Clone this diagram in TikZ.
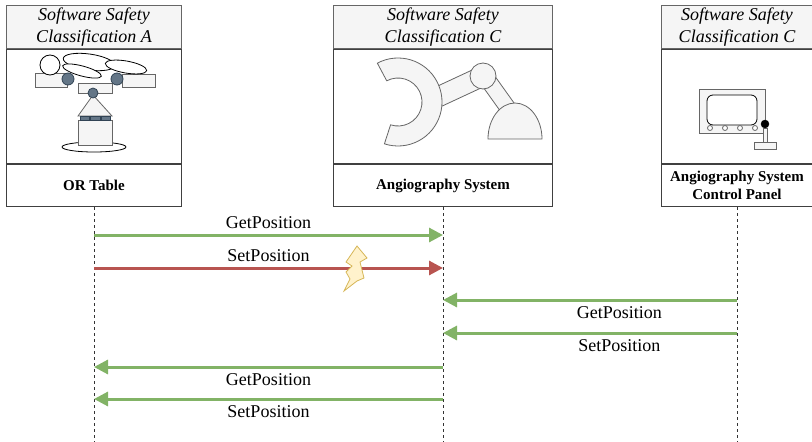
\documentclass[tikz,border=0pt]{standalone}
\usepackage{fontspec}
\setmainfont{Liberation Serif}
\usetikzlibrary{arrows.meta}
\definecolor{hdrfill}{HTML}{F5F5F5}
\definecolor{hdrline}{HTML}{666666}
\definecolor{okgreen}{HTML}{82B366}
\definecolor{badred}{HTML}{B85450}
\definecolor{jointfill}{HTML}{647687}
\definecolor{jointline}{HTML}{314354}
\definecolor{boltfill}{HTML}{FFF2CC}
\definecolor{boltline}{HTML}{D6B656}
\tikzset{
  headbox/.style={draw=hdrline, fill=hdrfill, line width=1pt, minimum height=43pt, inner sep=0pt,
    align=center, font=\fontsize{18}{22}\selectfont\itshape, anchor=north west},
  picbox/.style={draw=black!75, line width=1pt, minimum height=114pt, inner sep=0pt, anchor=north},
  namebox/.style={draw=black!75, line width=1pt, minimum height=42pt, inner sep=0pt,
    align=center, font=\fontsize{15}{18}\selectfont\bfseries, anchor=north},
  lifeline/.style={black!80, line width=0.8pt, dash pattern=on 3pt off 3pt},
  msg/.style={line width=3pt, -{Triangle[length=14pt,width=14pt]}},
  okmsg/.style={msg, okgreen},
  badmsg/.style={msg, badred},
  msglbl/.style={text=black, inner sep=5pt, font=\fontsize{18}{20}\selectfont},
  icon/.style={draw=hdrline, fill=hdrfill, line width=0.8pt},
  joint/.style={draw=jointline, fill=jointfill, line width=0.8pt}
}
\begin{document}
\begin{tikzpicture}[x=1pt,y=-1pt]
\useasboundingbox (0,0) rectangle (812,442);
%boxes
\node[headbox, minimum width=175pt] (orHead) at (6,5) {Software Safety\\Classification A};
\node[picbox, minimum width=175pt] (orPic) at (orHead.south) {};
\node[namebox, minimum width=175pt] (orName) at (orPic.south) {OR Table};
%
\node[headbox, minimum width=219pt] (angioHead) at (333,5) {Software Safety\\Classification C};
\node[picbox, minimum width=219pt] (angioPic) at (angioHead.south) {};
\node[namebox, minimum width=219pt] (angioName) at (angioPic.south) {Angiography System};
%
\node[headbox, minimum width=151pt] (panelHead) at (661,5) {Software Safety\\Classification C};
\node[picbox, minimum width=151pt] (panelPic) at (panelHead.south) {};
\node[namebox, minimum width=151pt] (panelName) at (panelPic.south) {Angiography System\\Control Panel};
%
%OR table icon
\draw[icon] (35,73) rectangle (67,87);
\draw[icon] (122,74) rectangle (155,87);
\draw[icon] (78,83) rectangle (112,93);
\draw[fill=white, line width=0.8pt] (50,65) circle (10pt);
\draw[fill=white, line width=0.8pt, rotate around={-8:(89,62)}] (89,62) ellipse (26pt and 8pt);
\draw[fill=white, line width=0.8pt, rotate around={-15:(82,71)}] (82,71) ellipse (20pt and 5pt);
\draw[fill=white, line width=0.8pt, rotate around={-10:(126,67)}] (126,67) ellipse (21pt and 6pt);
\draw[fill=white, line width=0.8pt] (94,147) ellipse (32pt and 5pt);
\draw[icon] (78,120) rectangle (112,145);
\draw[icon] (93,95) -- (112,116) -- (78,116) -- cycle;
\draw[joint] (80,116) rectangle (89,120);
\draw[joint] (90,116) rectangle (100,120);
\draw[joint] (101,116) rectangle (110,120);
\draw[joint] (68,79) circle (6pt);
\draw[joint] (117,79) circle (6pt);
\draw[joint] (93,93) circle (5pt);
%
%angiography icon
\pgfmathsetmacro{\rout}{44}
\pgfmathsetmacro{\rin}{24}
\coordinate (carm) at (398,102);
\draw[icon] (491.5,71.4) -- (521.5,113.4) -- (508.5,122.6) -- (478.5,80.6) -- cycle;
\draw[icon] (488,139) arc (180:0:27pt and 36pt) -- cycle;
\draw[icon] (420.8,93.9) -- (478.8,66.9) -- (487.2,85.1) -- (429.2,112.1) -- cycle;
\draw[icon] ([shift={(118:\rout pt)}]carm) arc (118:-108:\rout pt)
  -- ([shift={(-108:\rin pt)}]carm) arc (-108:118:\rin pt) -- cycle;
\draw[icon] (483,76) circle (13pt);
%
%control panel icon
\draw[icon] (699,89) rectangle (765,133);
\draw[fill=white, line width=0.8pt, rounded corners=6pt] (707,95) rectangle (757,125);
\draw[icon, fill=white] (710,128) circle (2.5pt);
\draw[icon, fill=white] (725,128) circle (2.5pt);
\draw[icon, fill=white] (740,128) circle (2.5pt);
\draw[icon, fill=white] (755,128) circle (2.5pt);
\draw[icon] (763,128) rectangle (767,142);
\draw[icon] (754,142) rectangle (776,149);
\draw[fill=black] (765,124) circle (4pt);
%
%lifelines
\coordinate (orEnd) at (orName.south |- 0,442);
\coordinate (angioEnd) at (angioName.south |- 0,442);
\coordinate (panelEnd) at (panelName.south |- 0,442);
\draw[lifeline] (orName.south) -- (orEnd);
\draw[lifeline] (angioName.south) -- (angioEnd);
\draw[lifeline] (panelName.south) -- (panelEnd);
%
%messages
\coordinate (or1) at (orName.south |- 0,235);
\coordinate (or2) at (orName.south |- 0,268);
\coordinate (or5) at (orName.south |- 0,367);
\coordinate (or6) at (orName.south |- 0,399);
\coordinate (angio1) at (angioName.south |- 0,235);
\coordinate (angio2) at (angioName.south |- 0,268);
\coordinate (angio3) at (angioName.south |- 0,300);
\coordinate (angio4) at (angioName.south |- 0,333);
\coordinate (angio5) at (angioName.south |- 0,367);
\coordinate (angio6) at (angioName.south |- 0,399);
\coordinate (panel3) at (panelName.south |- 0,300);
\coordinate (panel4) at (panelName.south |- 0,333);
\draw[okmsg] (or1) -- node[msglbl, above] {GetPosition} (angio1);
\draw[badmsg] (or2) -- node[msglbl, above] {SetPosition} (angio2);
\draw[okmsg] (panel3) -- node[msglbl, below, pos=0.4] {GetPosition} (angio3);
\draw[okmsg] (panel4) -- node[msglbl, below, pos=0.4] {SetPosition} (angio4);
\draw[okmsg] (angio5) -- node[msglbl, below] {GetPosition} (or5);
\draw[okmsg] (angio6) -- node[msglbl, below] {SetPosition} (or6);
%fault
\draw[draw=boltline, fill=boltfill, line width=0.8pt] (357,246) -- (367,258) -- (360,262) -- (364,278)
  -- (357,281) -- (344,291) -- (350,279) -- (346,272) -- (352,266) -- (346,262) -- cycle;
\end{tikzpicture}
\end{document}
